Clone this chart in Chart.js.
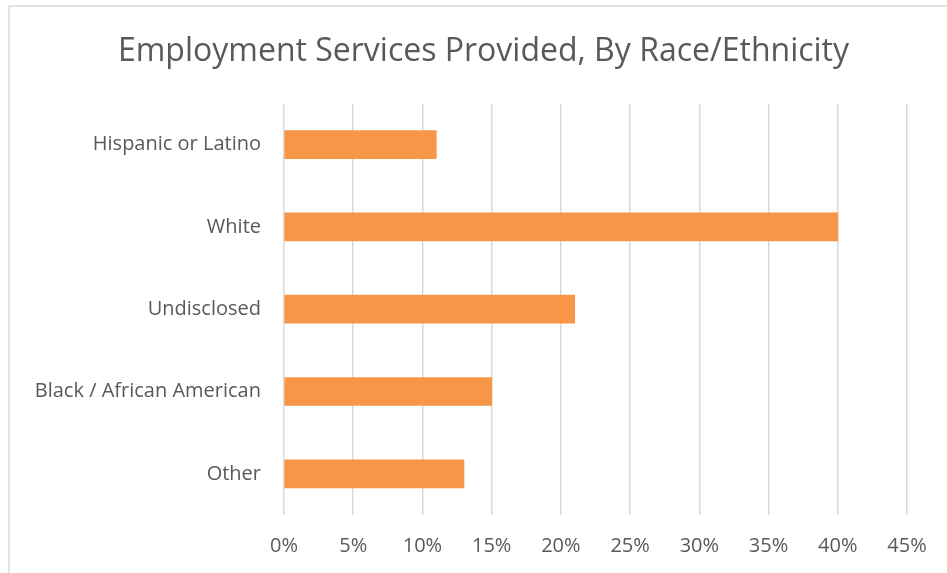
<!DOCTYPE html>
<html>
<head>
<meta charset="utf-8">
<script src="https://cdn.jsdelivr.net/npm/chart.js@4"></script>
<style>
  html, body { margin: 0; padding: 0; background: #fff; }
  #wrap { width: 947px; height: 573px; position: relative; }
</style>
</head>
<body>
<div id="wrap"><canvas id="myChart" width="947" height="573"></canvas></div>
<script>
const categories = ['Hispanic or Latino', 'White', 'Undisclosed', 'Black / African American', 'Other'];
const shares = [11, 40, 21, 15, 13];
const tickValues = [0, 5, 10, 15, 20, 25, 30, 35, 40, 45];

const textColor = '#595959';
const fontFamily = "'Open Sans', 'Liberation Sans', sans-serif";

// light grey frame around the whole chart
const framePlugin = {
    id: 'frame',
    beforeDraw(chart) {
        const ctx = chart.ctx;
        ctx.save();
        ctx.fillStyle = '#fff';
        ctx.fillRect(0, 0, chart.width, chart.height);
        ctx.strokeStyle = '#d9d9d9';
        ctx.lineWidth = 1.5;
        ctx.strokeRect(9, 6, chart.width + 10, chart.height + 10);
        ctx.restore();
    }
};

let ctx = document.getElementById('myChart').getContext('2d');

new Chart(ctx, {
    type: 'bar',
    data: {
        labels: categories,
        datasets: [{
            data: shares,
            backgroundColor: '#F79646',
            borderWidth: 0,
            barThickness: 28
        }]
    },
    options: {
        indexAxis: 'y',
        responsive: false,
        animation: false,
        layout: { padding: { left: 20, right: 0, top: 0, bottom: 0 } },
        plugins: {
            legend: { display: false },
            tooltip: { enabled: false },
            title: {
                display: true,
                text: 'Employment Services Provided, By Race/Ethnicity',
                color: textColor,
                font: { family: fontFamily, size: 32, weight: 'normal' },
                padding: { top: 33, bottom: 32 }
            }
        },
        scales: {
            x: {
                min: 0,
                max: 45,
                afterBuildTicks: axis => {
                    axis.ticks = tickValues.map(v => ({ value: v }));
                },
                afterFit: axis => { axis.height = 58; },
                grid: {
                    color: '#d9d9d9',
                    lineWidth: 1.5,
                    drawTicks: false
                },
                border: { display: false },
                ticks: {
                    color: textColor,
                    padding: 19,
                    font: { family: fontFamily, size: 20 },
                    callback: v => v + '%'
                }
            },
            y: {
                afterFit: axis => { axis.width = 264; },
                grid: { display: false },
                border: { display: false },
                ticks: {
                    color: textColor,
                    padding: 15,
                    font: { family: fontFamily, size: 20 }
                }
            },
            // empty right-hand axis, just reserves space after the 45% line
            yRight: {
                type: 'category',
                position: 'right',
                afterFit: axis => { axis.width = 40; },
                grid: { display: false },
                border: { display: false },
                ticks: { display: false }
            }
        }
    },
    plugins: [framePlugin]
});
</script>
</body>
</html>
